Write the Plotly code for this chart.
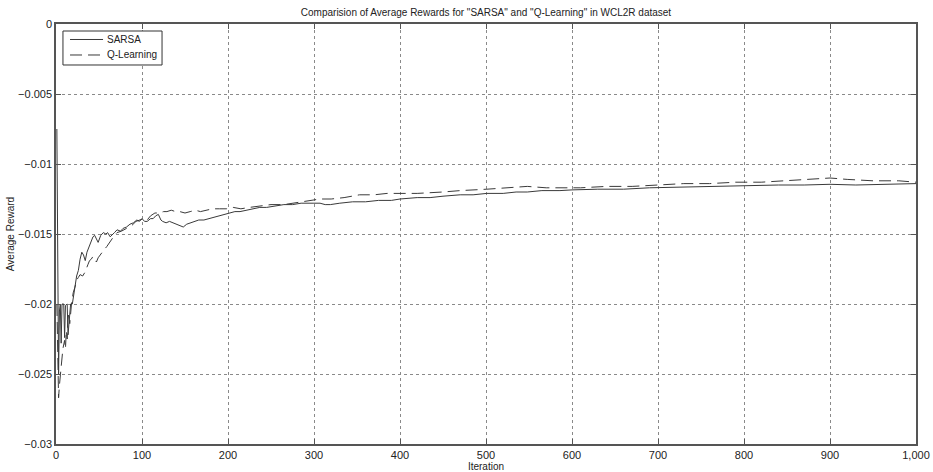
import plotly.graph_objects as go

# Average reward per iteration (sampled along each run)
sarsa_iter = [1, 2, 3, 4, 5, 6, 7, 9, 10, 11, 13, 14, 15, 17, 19, 20, 22, 24, 26, 28,
              30, 32, 34, 36, 38, 40, 43, 45, 47, 49, 52, 55, 58, 60, 63, 65, 68, 71, 75, 78,
              82, 86, 90, 94, 97, 100, 103, 106, 110, 113, 116, 119, 122, 124, 128, 132, 136,
              140, 144, 148, 152, 156, 160, 166, 172, 178, 184, 190, 196, 202, 208, 214, 222,
              230, 237, 245, 255, 265, 275, 285, 299, 307, 313, 319, 330, 345, 360, 375, 390,
              400, 420, 435, 450, 470, 485, 501, 520, 535, 548, 565, 586, 600, 630, 660, 690,
              720, 750, 780, 810, 840, 870, 900, 930, 960, 1000]
sarsa_reward = [-0.0075, -0.0200, -0.0250, -0.0205, -0.0200, -0.0228, -0.0200, -0.0200,
                -0.0224, -0.0201, -0.0200, -0.0222, -0.0212, -0.0200, -0.0200, -0.0195,
                -0.0188, -0.0180, -0.0176, -0.0168, -0.0163, -0.0165, -0.0169, -0.0163,
                -0.0160, -0.0157, -0.0152, -0.0151, -0.0154, -0.0156, -0.0151, -0.0149,
                -0.0150, -0.0149, -0.0152, -0.0151, -0.0149, -0.0147, -0.0148, -0.0146,
                -0.0145, -0.0143, -0.0142, -0.0140, -0.0141, -0.0139, -0.0141, -0.0141,
                -0.0139, -0.0139, -0.0137, -0.0136, -0.0140, -0.0141, -0.0142, -0.0141,
                -0.0142, -0.0143, -0.0144, -0.0145, -0.0143, -0.0142, -0.0141, -0.0140,
                -0.0140, -0.0139, -0.0138, -0.0137, -0.0136, -0.0135, -0.0134, -0.0134,
                -0.0133, -0.0132, -0.0131, -0.0131, -0.0130, -0.0129, -0.0129, -0.0128,
                -0.0128, -0.0128, -0.0129, -0.0129, -0.0128, -0.0127, -0.0127, -0.0126,
                -0.0126, -0.0125, -0.0124, -0.0124, -0.0123, -0.0122, -0.0122, -0.0121,
                -0.0121, -0.0120, -0.0120, -0.0119, -0.0119, -0.01185, -0.0118, -0.0118,
                -0.0117, -0.01165, -0.0116, -0.0116, -0.0115, -0.0115, -0.0115, -0.01145,
                -0.0115, -0.01145, -0.0114]

qlearn_iter = [1, 2, 3, 4, 5, 7, 8, 10, 11, 12, 13, 14, 16, 18, 20, 22, 24, 26, 28, 31,
               34, 37, 39, 41, 43, 45, 47, 49, 51, 55, 59, 62, 65, 68, 71, 76, 82, 88, 93, 98,
               102, 106, 110, 115, 120, 125, 129, 134, 139, 144, 150, 156, 162, 168, 175, 182,
               190, 198, 206, 215, 225, 237, 250, 265, 284, 295, 307, 320, 335, 353, 370, 385,
               400, 420, 450, 470, 501, 525, 548, 570, 586, 610, 640, 670, 700, 730, 760, 790,
               820, 850, 880, 900, 920, 950, 980, 1000]
qlearn_reward = [-0.0200, -0.0255, -0.0267, -0.0258, -0.0250, -0.0240, -0.0232, -0.0226,
                 -0.0232, -0.0219, -0.0225, -0.0206, -0.0214, -0.0200, -0.0192, -0.0188,
                 -0.0183, -0.0181, -0.0179, -0.0180, -0.0177, -0.0172, -0.0169, -0.0168,
                 -0.0166, -0.0168, -0.0170, -0.0167, -0.0165, -0.0162, -0.0159, -0.0156,
                 -0.0154, -0.0151, -0.0149, -0.0148, -0.0146, -0.0144, -0.0141, -0.0140,
                 -0.0139, -0.0140, -0.0137, -0.0135, -0.0135, -0.0134, -0.0134, -0.0133,
                 -0.0134, -0.0134, -0.0135, -0.0134, -0.0133, -0.0134, -0.0133, -0.0132,
                 -0.0132, -0.0132, -0.0131, -0.0132, -0.0131, -0.0130, -0.0129, -0.0129,
                 -0.0127, -0.0126, -0.0125, -0.0125, -0.0124, -0.0122, -0.0122, -0.0121,
                 -0.0121, -0.0121, -0.0120, -0.0119, -0.0118, -0.0117, -0.0116, -0.0117,
                 -0.0117, -0.0117, -0.0116, -0.0116, -0.0115, -0.0114, -0.0114, -0.0113,
                 -0.0113, -0.0112, -0.0111, -0.0110, -0.0111, -0.0112, -0.0112, -0.0113]

series_names = ["SARSA", "Q-Learning"]
x_ticks = [0, 100, 200, 300, 400, 500, 600, 700, 800, 900, 1000]
y_ticks = [0, -0.005, -0.01, -0.015, -0.02, -0.025, -0.03]
y_ticktext = ["0", "\u22120.005", "\u22120.01", "\u22120.015", "\u22120.02", "\u22120.025",
              "\u22120.03"]

FONT = "Liberation Sans, Arial, sans-serif"
TXT = "#222222"
LINE = "#3a3a3a"
DASH = "12px,6px"

fig = go.Figure()
fig.add_trace(go.Scatter(x=sarsa_iter, y=sarsa_reward, mode="lines", name=series_names[0],
                         line=dict(color=LINE, width=1), showlegend=False))
fig.add_trace(go.Scatter(x=qlearn_iter, y=qlearn_reward, mode="lines", name=series_names[1],
                         line=dict(color=LINE, width=1, dash=DASH), showlegend=False))

axis_common = dict(
    showline=True, linecolor="#555555", linewidth=1.5, mirror="ticks",
    ticks="inside", ticklen=5, tickcolor="#555555",
    showgrid=True, gridcolor="#8a8a8a", griddash="dot", gridwidth=1,
    zeroline=False, automargin=False,
    tickfont=dict(family=FONT, size=11, color=TXT),
)

# Boxed key in the upper-left corner of the axes
box_x0, box_x1, box_y0, box_y1 = 0.0081, 0.1233, 0.9024, 0.9833
key_x0, key_x1, key_text_x = 0.0163, 0.0547, 0.0570
key_rows = [0.9631, 0.9262]
key_dash = ["solid", DASH]

shapes = [dict(type="rect", xref="paper", yref="paper", x0=box_x0, x1=box_x1,
               y0=box_y0, y1=box_y1, line=dict(color="#333333", width=1),
               fillcolor="white", layer="above")]
annotations = []
for name, row, dash in zip(series_names, key_rows, key_dash):
    shapes.append(dict(type="line", xref="paper", yref="paper", x0=key_x0, x1=key_x1,
                       y0=row, y1=row, line=dict(color=LINE, width=1, dash=dash),
                       layer="above"))
    annotations.append(dict(text=name, xref="paper", yref="paper", x=key_text_x, y=row,
                            xanchor="left", yanchor="middle", showarrow=False,
                            font=dict(family=FONT, size=10, color=TXT)))

fig.update_layout(
    width=933, height=472,
    margin=dict(l=56, r=17, t=24, b=28, autoexpand=False),
    paper_bgcolor="white", plot_bgcolor="white",
    title=dict(text='Comparision of Average Rewards for "SARSA" and "Q-Learning" in WCL2R dataset',
               x=0.5209, xanchor="center", y=0.974, yanchor="middle",
               font=dict(family=FONT, size=10, color=TXT)),
    xaxis=dict(range=[0, 1000], tickvals=x_ticks, tickformat=",d",
               title=dict(text="Iteration", standoff=0,
                          font=dict(family=FONT, size=10, color=TXT)),
               **axis_common),
    yaxis=dict(range=[-0.03, 0], tickvals=y_ticks, ticktext=y_ticktext,
               title=dict(text="Average Reward", standoff=2,
                          font=dict(family=FONT, size=10, color=TXT)),
               **axis_common),
    shapes=shapes,
    annotations=annotations,
    showlegend=False,
)

fig.write_html("out.html")
